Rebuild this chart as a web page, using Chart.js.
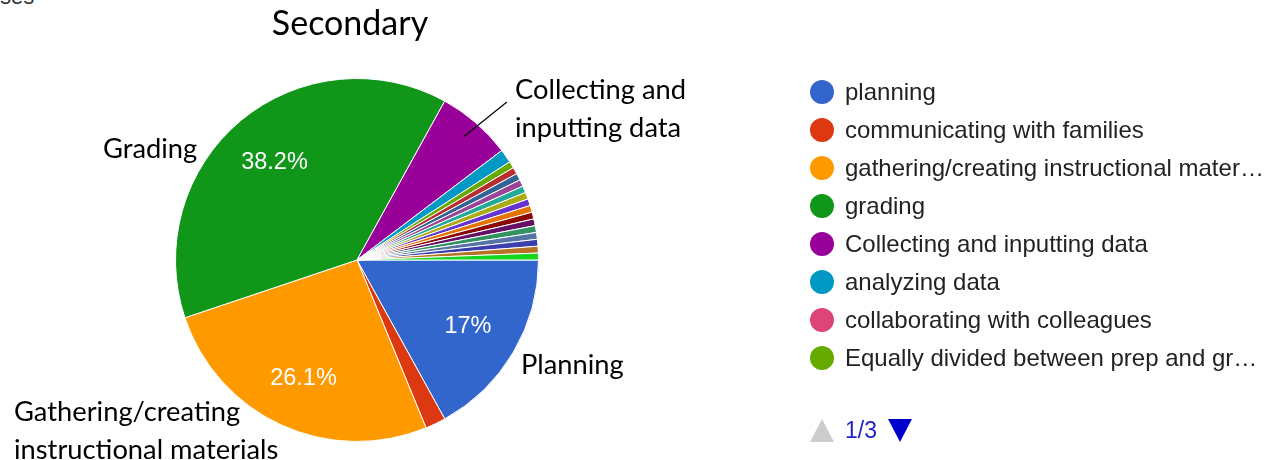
<!DOCTYPE html>
<html>
<head>
<meta charset="utf-8">
<script src="https://cdn.jsdelivr.net/npm/chart.js@4.4.1/dist/chart.umd.min.js"></script>
<style>
  body { margin: 0; background: #fff; }
  #wrap { position: relative; width: 1284px; height: 460px; overflow: hidden; font-family: "Liberation Sans", Arial, sans-serif; }
  #pie { position: absolute; left: 0; top: 0; }
  #cut { position: absolute; left: 0; top: -14px; font-size: 22px; line-height: 22px; color: #333; }
  #legend { position: absolute; left: 810px; top: 73px; }
  .row { height: 38px; display: flex; align-items: center; }
  .dot { width: 24px; height: 24px; border-radius: 50%; margin-right: 11px; flex: none; }
  .txt { font-size: 24px; color: #222; white-space: nowrap; overflow: hidden; text-overflow: ellipsis; max-width: 424px; }
  #pager { position: absolute; left: 810px; top: 417px; display: flex; align-items: center; }
  .up { width: 0; height: 0; border-left: 12px solid transparent; border-right: 12px solid transparent; border-bottom: 23px solid #ccc; }
  .down { width: 0; height: 0; border-left: 12px solid transparent; border-right: 12px solid transparent; border-top: 23px solid #0000cc; }
  #page { font-size: 23px; color: #2222cc; margin: 0 11px 0 11px; }
</style>
</head>
<body>
<div id="wrap">
  <div id="cut">ses</div>
  <canvas id="pie" width="1284" height="460"></canvas>
  <div id="legend"></div>
  <div id="pager"><div class="up"></div><span id="page">1/3</span><div class="down"></div></div>
</div>
<script>
// answers (only the first legend page is visible in the picture)
const respostas = [
  'planning', 'communicating with families', 'gathering/creating instructional materials',
  'grading', 'Collecting and inputting data', 'analyzing data', 'collaborating with colleagues',
  'Equally divided between prep and grading',
  'other 9', 'other 10', 'other 11', 'other 12', 'other 13', 'other 14', 'other 15',
  'other 16', 'other 17', 'other 18', 'other 19', 'other 20', 'other 21', 'other 22'
];
// number of responses per answer
const contagem = [28, 3, 43, 63, 11, 2, 0, 1, 1, 1, 1, 1, 1, 1, 1, 1, 1, 1, 1, 1, 1, 1];
const cores = [
  '#3366cc', '#dc3912', '#ff9900', '#109618', '#990099', '#0099c6', '#dd4477', '#66aa00',
  '#b82e2e', '#316395', '#994499', '#22aa99', '#aaaa11', '#6633cc', '#e67300', '#8b0707',
  '#651067', '#329262', '#5574a6', '#3b3eac', '#b77322', '#16d620'
];
const titulo = 'Secondary';
const porPagina = 8;

// hand-written callouts on top of the chart
const chamadas = [
  { linhas: ['Grading'], x: 103, y: 158 },
  { linhas: ['Collecting and', 'inputting data'], x: 515, y: 99 },
  { linhas: ['Planning'], x: 521, y: 374 },
  { linhas: ['Gathering/creating', 'instructional materials'], x: 14, y: 421 }
];

const legenda = document.getElementById('legend');
respostas.slice(0, porPagina).forEach((r, i) => {
  const row = document.createElement('div');
  row.className = 'row';
  row.innerHTML = '<div class="dot" style="background:' + cores[i] + '"></div><div class="txt"></div>';
  row.querySelector('.txt').textContent = r;
  legenda.appendChild(row);
});

const textos = {
  id: 'textos',
  afterDatasetsDraw(chart) {
    const ctx = chart.ctx;
    const arcs = chart.getDatasetMeta(0).data;
    const total = contagem.reduce((a, b) => a + b, 0);
    ctx.save();
    // percentages inside the big slices
    ctx.fillStyle = '#fff';
    ctx.font = '23.5px "Liberation Sans", Arial, sans-serif';
    ctx.textAlign = 'center';
    ctx.textBaseline = 'middle';
    arcs.forEach((arc, i) => {
      const pct = contagem[i] / total * 100;
      if (pct < 10) return;
      const p = arc.getProps(['x', 'y', 'startAngle', 'endAngle', 'outerRadius'], true);
      const mid = (p.startAngle + p.endAngle) / 2;
      ctx.fillText(parseFloat(pct.toFixed(1)) + '%',
        p.x + Math.cos(mid) * p.outerRadius * 0.71,
        p.y + Math.sin(mid) * p.outerRadius * 0.71 + 1);
    });
    // leader line for "Collecting and inputting data"
    const c = arcs[4].getProps(['x', 'y', 'startAngle', 'endAngle', 'outerRadius'], true);
    const m = (c.startAngle + c.endAngle) / 2;
    ctx.strokeStyle = '#000';
    ctx.lineWidth = 1.2;
    ctx.beginPath();
    ctx.moveTo(c.x + Math.cos(m) * c.outerRadius * 0.9, c.y + Math.sin(m) * c.outerRadius * 0.9);
    ctx.lineTo(c.x + Math.cos(m + 0.045) * c.outerRadius * 1.2, c.y + Math.sin(m + 0.045) * c.outerRadius * 1.2);
    ctx.stroke();
    // title and callouts
    ctx.fillStyle = '#000';
    ctx.textAlign = 'center';
    ctx.textBaseline = 'alphabetic';
    ctx.font = '34px Lato, "Open Sans", sans-serif';
    ctx.fillText(titulo, 350, 35);
    ctx.textAlign = 'left';
    ctx.font = '27.3px Lato, "Open Sans", sans-serif';
    chamadas.forEach(ch => {
      ch.linhas.forEach((l, k) => ctx.fillText(l, ch.x, ch.y + k * 38));
    });
    ctx.restore();
  }
};

new Chart(document.getElementById('pie'), {
  type: 'pie',
  data: {
    labels: respostas,
    datasets: [{
      data: contagem,
      backgroundColor: cores,
      borderColor: '#fff',
      borderWidth: 1
    }]
  },
  options: {
    responsive: false,
    animation: false,
    rotation: 90,
    layout: {
      padding: { left: 175, top: 78, right: 745, bottom: 18 }
    },
    plugins: {
      legend: { display: false },
      tooltip: { enabled: false },
      title: { display: false }
    }
  },
  plugins: [textos]
});
</script>
</body>
</html>
